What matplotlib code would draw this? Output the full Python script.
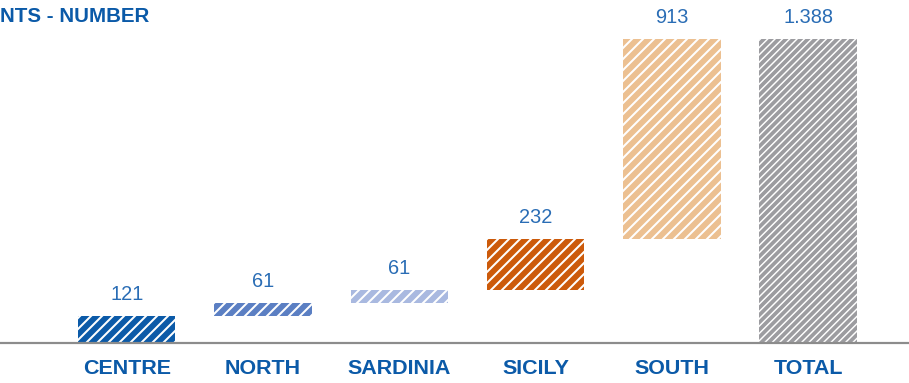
import matplotlib
matplotlib.use("Agg")
import matplotlib.pyplot as plt

regions = ["CENTRE", "NORTH", "SARDINIA", "SICILY", "SOUTH", "TOTAL"]
values = [121, 61, 61, 232, 913]
total = sum(values)
value_labels = ["121", "61", "61", "232", "913", "1.388"]
colors = ["#0b5aa8", "#5b7fc3", "#a9b9e0", "#cc5a0a", "#ecc091", "#9c9ca0"]

DPI = 132
W, H = 909, 383
plt.rcParams["font.family"] = ["Liberation Sans", "DejaVu Sans"]

def px(v):
    # pixel size -> points
    return v * 72 / DPI

fig = plt.figure(figsize=(W / DPI, H / DPI), dpi=DPI)
ax = fig.add_axes([0, 40 / H, 1, 343 / H])

# waterfall: each region starts where the previous one ended
bottoms = []
run = 0
for v in values:
    bottoms.append(run)
    run += v
heights = values + [total]
bottoms = bottoms + [0]

for i in range(len(regions)):
    is_total = regions[i] == "TOTAL"
    hatch = "//////" if is_total else "////"
    hlw = 0.8 if is_total else 1.1
    with plt.rc_context({"hatch.linewidth": hlw}):
        bars = ax.bar(i, heights[i], bottom=bottoms[i], width=0.715,
                      color=colors[i], edgecolor="white", linewidth=0,
                      hatch=hatch)
    for b in bars:
        if hasattr(b, "set_hatch_linewidth"):
            b.set_hatch_linewidth(hlw)
    ax.text(i, bottoms[i] + heights[i] + 55, value_labels[i], ha="center",
            va="bottom", fontsize=px(20), color="#2a6db5")

ax.set_xlim(-0.93, 5.74)
ax.set_ylim(0, 1566)
ax.axhline(0, color="#8c8c8c", lw=1.2, clip_on=False)
for s in ax.spines.values():
    s.set_visible(False)
ax.set_xticks(range(len(regions)))
ax.set_xticklabels(regions, fontsize=px(21.5), fontweight="bold", color="#0b5aa8")
ax.tick_params(axis="x", length=0, pad=px(16))
ax.set_yticks([])

fig.text(0, 1 - 7 / H, "NTS - NUMBER", ha="left", va="top",
         fontsize=px(20.5), fontweight="bold", color="#0b5aa8")

fig.savefig("out.png", dpi=DPI)
